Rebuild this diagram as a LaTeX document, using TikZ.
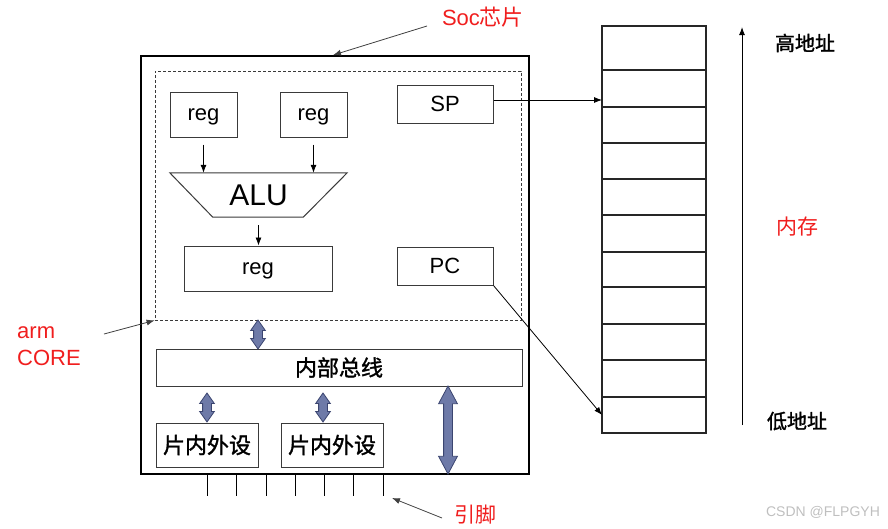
\documentclass[tikz,border=0pt]{standalone}
\usepackage{fontspec}
\setmainfont{Liberation Sans}
\newfontfamily\cjk{Noto Sans CJK SC}
\newfontfamily\cjkb{Noto Sans CJK SC}[FakeBold=1.5]
\usetikzlibrary{arrows.meta,positioning,calc,shapes.arrows}
\definecolor{boxline}{HTML}{3A3A3A}
\definecolor{busfill}{HTML}{6E7AA8}
\definecolor{busline}{HTML}{3B4570}
\definecolor{note}{HTML}{F01E1E}
\begin{document}
\begin{tikzpicture}[x=1pt,y=-1pt,
  box/.style={draw=boxline,line width=1pt,minimum width=67pt,minimum height=45pt,inner sep=0pt,font=\fontsize{22}{26}\selectfont},
  regbox/.style={box,text depth=0pt},
  cell/.style={draw=black!85,line width=1.8pt,minimum width=104pt,inner sep=0pt,outer sep=0pt},
  dbl/.style={double arrow,draw=busline,fill=busfill,line width=0.8pt,rotate=90,inner xsep=0pt,inner ysep=4pt,double arrow head extend=3pt,double arrow tip angle=70},
  arr/.style={-{Latex[length=8pt,width=6pt]},line width=0.8pt},
  lbl/.style={font=\fontsize{22}{27}\selectfont,text=note,inner sep=0pt},
  addr/.style={font=\cjkb\fontsize{20}{24}\selectfont,inner sep=0pt}
]
\useasboundingbox (0,0) rectangle (888,528);
\node[draw=black,line width=1.8pt,minimum width=388pt,minimum height=418pt,inner sep=0pt] (chip) at (335,265) {};
\node[draw=boxline,dashed,dash pattern=on 3pt off 2pt,line width=0.8pt,minimum width=366pt,minimum height=249pt,inner sep=0pt] (core) at (338,195.5) {};
\node[regbox] (reg1) at (203.5,114.5) {reg};
\node[regbox] (reg2) at (313.5,114.5) {reg};
\node[box,minimum width=96pt,minimum height=38pt] (sp) at (445,104) {SP};
\node[inner sep=0pt,minimum width=177pt,minimum height=44pt,font=\fontsize{30}{34}\selectfont] (alu) at (258.5,195) {ALU};
\draw[boxline,line width=1pt] (alu.north west) -- (alu.north east) -- ($(alu.south east)+(-44,0)$) -- ($(alu.south west)+(43,0)$) -- cycle;
\node[regbox,minimum width=148pt] (reg3) at (258,268.5) {reg};
\node[box,minimum width=96pt,minimum height=38pt] (pc) at (445,266) {PC};
\node[box,minimum width=366pt,minimum height=37pt,font=\cjkb\fontsize{22}{26}\selectfont] (bus) at (339,367.5) {内部总线};
\node[box,minimum width=102pt,minimum height=44pt,font=\cjkb\fontsize{22}{26}\selectfont] (per1) at (207,445) {片内外设};
\node[box,minimum width=102pt,minimum height=44pt,font=\cjkb\fontsize{22}{26}\selectfont] (per2) at (332,445) {片内外设};
\foreach \r in {reg1,reg2} {\draw[arr] ([yshift=-7pt]\r.south) -- (\r.south |- alu.north);}
\draw[arr] ([yshift=-8pt]alu.south) -- (alu.south |- reg3.north);
\node[dbl,minimum height=29pt] (c2b) at (258,334.5) {};
\node[dbl,minimum height=29pt] (b2p1) at (207,407.5) {};
\node[dbl,minimum height=29pt] (b2p2) at (323,407.5) {};
\node[dbl,minimum height=88pt,double arrow head extend=5pt,double arrow tip angle=56] (b2pin) at (448,430) {};
\foreach \x in {207,236,266,295,324,353,383} {\draw[line width=1pt] (\x,474) -- (\x,496);}
\node[cell,minimum height=44pt] (m1) at (654,48) {};
\foreach \h [count=\i from 2] in {37,36,36,36,37,35,37,36,37,36} {
  \pgfmathtruncatemacro\prev{\i-1}
  \node[cell,minimum height=\h pt,below=0pt of m\prev] (m\i) {};
}
\draw[arr] ([yshift=4pt]sp.east) -- ([yshift=4pt]sp.east -| m2.west);
\draw[arr] (pc.south east) -- (m11.west);
\coordinate (lo) at (742,425);
\coordinate (hi) at (742,27);
\draw[arr,line width=1pt] (lo) -- (hi);
\node[addr] (hiaddr) at (805,43) {高地址};
\node[addr] (loaddr) at (797,421) {低地址};
\node[lbl,font=\cjk\fontsize{21}{25}\selectfont] (mem) at (797,227) {内存};
\node[lbl] (soc) at (483,17) {Soc{\cjk 芯片}};
\node[lbl,align=left,anchor=west] (arm) at (17,346) {arm\\CORE};
\node[lbl,font=\cjk\fontsize{21}{25}\selectfont] (pins) at (475,515) {引脚};
\node[text=black!25,font=\fontsize{14}{16}\selectfont,inner sep=0pt] (mark) at (823,512) {CSDN @FLPGYH};
\coordinate (socfrom) at (427,26);
\coordinate (armfrom) at (104,334);
\coordinate (pinfrom) at (442,518);
\coordinate (pinto) at (392,498);
\draw[arr,draw=black!75] (socfrom) -- (chip.north -| 333,0);
\draw[arr,draw=black!75] (armfrom) -- (core.south west);
\draw[arr,draw=black!75] (pinfrom) -- (pinto);
\end{tikzpicture}
\end{document}
